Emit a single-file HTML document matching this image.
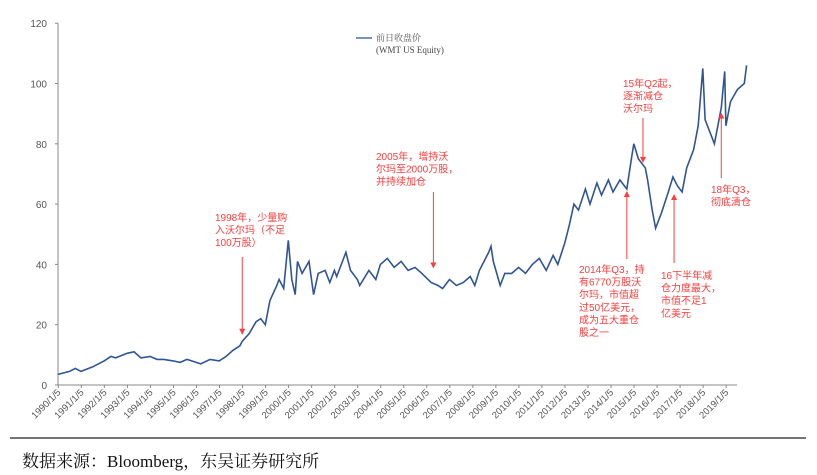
<!DOCTYPE html>
<html><head><meta charset="utf-8">
<style>
html,body{margin:0;padding:0;background:#fff;}
body{width:817px;height:475px;overflow:hidden;position:relative;font-family:"Liberation Sans","Noto Sans CJK SC",sans-serif;}
svg{position:absolute;left:0;top:0;}
.ann{font-family:"Liberation Sans","Noto Sans CJK SC",sans-serif;font-size:10px;fill:#ff3b3b;}
</style></head>
<body>
<svg id="chart" width="817" height="475">
  <g id="axes"></g>
  <path id="series" fill="none" stroke="#2f5597" stroke-width="1.6"/>
  <g id="legend">
    <line x1="356" y1="38" x2="372" y2="38" stroke="#2f5597" stroke-width="1.3"/>
    <text x="376" y="41" font-size="9" fill="#555" font-family="'Liberation Serif','Noto Serif CJK SC',serif">前日收盘价</text>
    <text x="376" y="53" font-size="9" fill="#444" font-family="'Liberation Serif',serif">(WMT US Equity)</text>
  </g>
  <g id="annotations"></g>
  <line x1="10" y1="438" x2="806" y2="438" stroke="#222" stroke-width="1.2"/>
  <text x="22" y="467" font-size="17" fill="#111" font-family="'Liberation Serif','Noto Serif CJK SC',serif">数据来源：Bloomberg，东吴证券研究所</text>
</svg>
<script>
const years = [1990.0,1990.5,1990.75,1991.0,1991.5,1992.0,1992.3,1992.5,1993.0,1993.3,1993.6,1994.0,1994.3,1994.6,1995.0,1995.3,1995.6,1996.0,1996.2,1996.6,1997.0,1997.3,1997.6,1997.9,1998.0,1998.3,1998.6,1998.8,1999.0,1999.2,1999.5,1999.6,1999.8,2000.0,2000.15,2000.3,2000.4,2000.6,2000.9,2001.1,2001.3,2001.6,2001.8,2002.0,2002.1,2002.4,2002.5,2002.7,2003.0,2003.1,2003.5,2003.8,2004.0,2004.3,2004.6,2004.9,2005.2,2005.5,2005.8,2006.2,2006.5,2006.7,2007.0,2007.3,2007.6,2007.9,2008.1,2008.3,2008.7,2008.8,2008.9,2009.2,2009.4,2009.7,2010.0,2010.3,2010.6,2010.9,2011.2,2011.5,2011.7,2012.0,2012.2,2012.4,2012.6,2012.9,2013.1,2013.4,2013.6,2013.9,2014.1,2014.4,2014.7,2014.9,2015.0,2015.2,2015.5,2015.6,2015.8,2015.95,2016.2,2016.5,2016.7,2016.9,2017.1,2017.3,2017.6,2017.8,2018.0,2018.1,2018.4,2018.5,2018.7,2018.8,2018.95,2019.0,2019.2,2019.5,2019.8,2019.9];
const prices = [3.5,4.5,5.5,4.5,6,8,9.5,9,10.5,11,9,9.5,8.5,8.5,8,7.5,8.5,7.5,7,8.5,8,9.5,11.5,13,14.5,17,21,22,20,28,33,35,32,48,35,30,41,37,41,30,37,38,34,38,36,42,44,38,35,33,38,35,40,42,39,41,38,39,37,34,33,32,35,33,34,36,33,38,44,46,41,33,37,37,39,37,40,42,38,43,40,47,53,60,58,65,60,67,63,68,64,68,65,75,80,75,72,68,58,52,57,64,69,66,64,72,78,86,105,88,82,80,88,92,104,86,94,98,100,106];
const yTicks = [0,20,40,60,80,100,120];
const xTickYears = [1990,1991,1992,1993,1994,1995,1996,1997,1998,1999,2000,2001,2002,2003,2004,2005,2006,2007,2008,2009,2010,2011,2012,2013,2014,2015,2016,2017,2018,2019];
const annTexts = [
 ["1998年，少量购","入沃尔玛（不足","100万股）"],
 ["2005年，增持沃","尔玛至2000万股，","并持续加仓"],
 ["15年Q2起，","逐渐减仓","沃尔玛"],
 ["2014年Q3，持","有6770万股沃","尔玛，市值超","过50亿美元，","成为五大重仓","股之一"],
 ["16下半年减","仓力度最大，","市值不足1","亿美元"],
 ["18年Q3，","彻底清仓"]
];
const annYears = [1998.0,2006.3,2015.4,2014.7,2016.75,2018.8];
const annPrices = [15,37,72,66,65,92];

const X0=58, XPER=23.03, Y0=385, YPER=3.015;
const xs = y => X0 + (y-1990)*XPER;
const ys = v => Y0 - v*YPER;
const NS='http://www.w3.org/2000/svg';
const axes=document.getElementById('axes');
function mk(tag,attrs,parent){const e=document.createElementNS(NS,tag);for(const k in attrs)e.setAttribute(k,attrs[k]);parent.appendChild(e);return e;}

const yAxis=mk('line',{x1:X0,y1:ys(120),x2:X0,y2:Y0,stroke:'#888','stroke-width':1},axes);


const xAxis=mk('line',{x1:X0,y1:Y0,x2:737,y2:Y0,stroke:'#888','stroke-width':1},axes);


yTicks.forEach(v=>{
  const t=mk('line',{x1:X0-3,y1:ys(v),x2:X0,y2:ys(v),stroke:'#888'},axes);
  
  
  const l=mk('text',{x:X0-11,y:ys(v)+4,'text-anchor':'end','font-size':10,fill:'#555'},axes);
  l.textContent=v;
  
  
});
xTickYears.forEach(y=>{
  const x=xs(y+0.013);
  const t=mk('line',{x1:x,y1:Y0,x2:x,y2:Y0+3,stroke:'#888'},axes);
  
  
  const l=mk('text',{x:x+3,y:Y0+8,'text-anchor':'end','font-size':9.5,fill:'#555',transform:`rotate(-45 ${x+3} ${Y0+8})`},axes);
  l.textContent=y+'/1/5';
  
  
});
let d='';
years.forEach((y,i)=>{d+=(i?'L':'M')+xs(y).toFixed(1)+' '+ys(prices[i]).toFixed(1);});
document.getElementById('series').setAttribute('d',d);

const annLayout=[[215,221,257,true],[376,160,192,true],[623,87,118,true],[579,273,259,false],[661,279,263,false],[711,193,178,false]];
const ag=document.getElementById('annotations');
annTexts.forEach((lines,i)=>{
  const [tx,ty,ay,down]=annLayout[i];
  const g=mk('g',{},ag);
  
  
  lines.forEach((s,j)=>{const t=mk('text',{x:tx,y:ty+j*12.6,class:'ann'},g);t.textContent=s;});
  const ax=xs(annYears[i]);
  const tipY=ys(annPrices[i]) + (down?-6:6);
  mk('line',{x1:ax,y1:ay,x2:ax,y2:tipY,stroke:'#ff3b3b','stroke-width':1},g);
  const h = down? `${ax-3},${tipY-5} ${ax+3},${tipY-5} ${ax},${tipY+1}` : `${ax-3},${tipY+5} ${ax+3},${tipY+5} ${ax},${tipY-1}`;
  mk('polygon',{points:h,fill:'#ff3b3b'},g);
});
</script>
</body></html>
